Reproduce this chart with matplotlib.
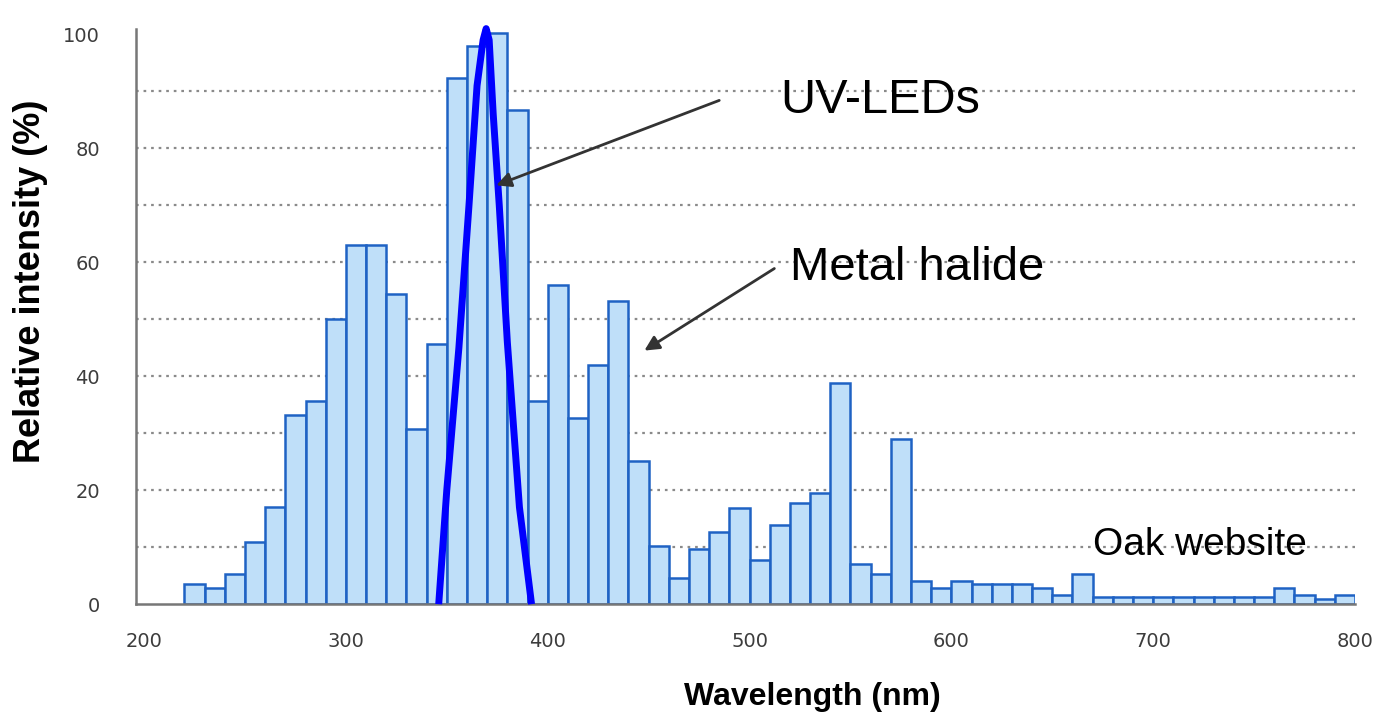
import matplotlib
matplotlib.use("Agg")
import matplotlib.pyplot as plt
import numpy as np

# Metal halide spectrum: bins of 10 nm starting at 220 nm
bin_starts = list(range(220, 800, 10))
metal_halide = [3.5, 2.8, 5.3, 10.9, 17.0, 33.2, 35.7, 50.0, 63.0, 63.0,
                54.5, 30.7, 45.7, 92.3, 98.0, 100.2, 86.8, 35.7, 56.0, 32.7,
                42.0, 53.2, 25.1, 10.2, 4.6, 9.7, 12.6, 16.9, 7.7, 13.9,
                17.7, 19.5, 38.8, 7.0, 5.3, 29.0, 4.0, 2.8, 4.0, 3.5,
                3.5, 3.5, 2.8, 1.6, 5.3, 1.2, 1.2, 1.2, 1.2, 1.2,
                1.2, 1.2, 1.2, 1.2, 2.8, 1.6, 0.9, 1.6]

# UV-LED emission curve
led_wl = [346, 350, 356, 361, 365, 368, 369.5, 371, 373, 376, 380, 386, 392]
led_int = [0, 20, 45, 70, 91, 99, 101, 99, 86, 70, 46, 17, 0]

y_ticks = [0, 20, 40, 60, 80, 100]
x_ticks = [200, 300, 400, 500, 600, 700, 800]
grid_levels = [10, 20, 30, 40, 50, 60, 70, 80, 90]

plt.rcParams['font.family'] = ['Liberation Sans', 'DejaVu Sans']

fig = plt.figure(figsize=(13.79, 7.15), dpi=100)
ax = fig.add_axes([0.0986, 0.155, 0.884, 0.805])

# gridlines
for g in grid_levels:
    ax.axhline(g, color='#8a8a8a', lw=1.6, ls=(0, (1.2, 2.2)), zorder=0)

ax.bar(bin_starts, metal_halide, width=10, align='edge',
       color='#bfdff9', edgecolor='#1f62c4', linewidth=1.8, zorder=2)

ax.plot(led_wl, led_int, color='#0000ff', lw=5, zorder=3,
        solid_capstyle='butt', solid_joinstyle='round', clip_on=False)

ax.set_xlim(196, 800)
ax.set_ylim(0, 101)
ax.set_xticks(x_ticks)
ax.set_yticks(y_ticks)
ax.tick_params(axis='both', length=0, colors='#3c3c3c', labelsize=14)
ax.tick_params(axis='x', pad=20)
ax.tick_params(axis='y', pad=26)
for lbl in ax.get_xticklabels() + ax.get_yticklabels():
    lbl.set_family('DejaVu Sans')

for s in ['top', 'right']:
    ax.spines[s].set_visible(False)
for s in ['left', 'bottom']:
    ax.spines[s].set_color('#777777')
    ax.spines[s].set_linewidth(1.8)

fig.text(0.589, 0.025, 'Wavelength (nm)', ha='center', va='center',
         fontsize=23, fontweight='bold')
fig.text(0.022, 0.607, 'Relative intensity (%)', ha='center', va='center',
         rotation=90, fontsize=26, fontweight='bold')

arrow_kw = dict(arrowstyle='-|>', color='#333333', lw=2.0, mutation_scale=22,
                shrinkA=0, shrinkB=0)
ax.annotate('', xy=(374.5, 73.5), xytext=(485, 88.4), arrowprops=arrow_kw)
ax.annotate('', xy=(447.9, 44.5), xytext=(512.3, 58.9), arrowprops=arrow_kw)

ax.text(515, 88.3, 'UV-LEDs', fontsize=35, ha='left', va='center')
ax.text(520, 59.0, 'Metal halide', fontsize=34, ha='left', va='center')
ax.text(670, 10.3, 'Oak website', fontsize=28, ha='left', va='center')

fig.savefig('out.png', dpi=100)
